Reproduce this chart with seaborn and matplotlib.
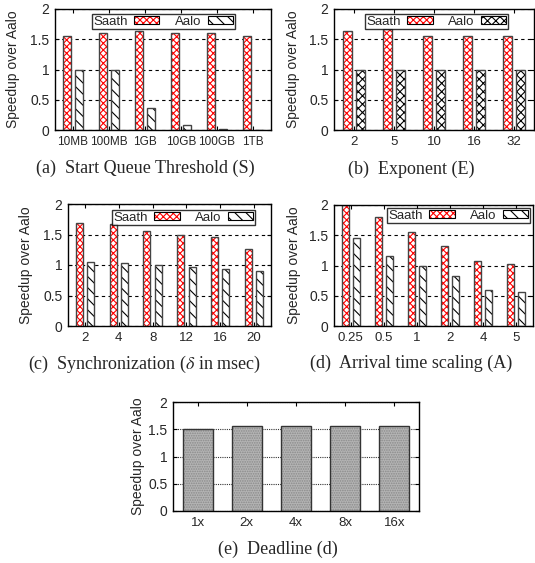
import pandas as pd
import seaborn as sns
import matplotlib
matplotlib.use('Agg')
import matplotlib.pyplot as plt
import matplotlib.patches as mpatches
import matplotlib.colors as mcolors

sns.set_theme(style='white')
plt.rcParams['font.family'] = ['Liberation Sans', 'DejaVu Sans']
plt.rcParams['mathtext.fontset'] = 'stix'
plt.rcParams['hatch.linewidth'] = 0.8

# data
systems = ['Saath', 'Aalo']

thresh_labels = ['10MB', '100MB', '1GB', '10GB', '100GB', '1TB']
thresh_saath = [1.56, 1.60, 1.63, 1.61, 1.60, 1.55]
thresh_aalo = [1.0, 1.0, 0.36, 0.08, 0.01, 0.0]

exp_labels = ['2', '5', '10', '16', '32']
exp_saath = [1.64, 1.67, 1.56, 1.55, 1.55]
exp_aalo = [1.0, 1.0, 1.0, 1.0, 1.0]

sync_labels = ['2', '4', '8', '12', '16', '20']
sync_saath = [1.69, 1.67, 1.56, 1.50, 1.46, 1.27]
sync_aalo = [1.05, 1.03, 1.0, 0.97, 0.93, 0.90]

arr_labels = ['0.25', '0.5', '1', '2', '4', '5']
arr_saath = [2.0, 1.80, 1.56, 1.33, 1.08, 1.03]
arr_aalo = [1.46, 1.16, 1.0, 0.82, 0.59, 0.57]

dl_labels = ['1x', '2x', '4x', '8x', '16x']
dl_vals = [1.50, 1.56, 1.56, 1.56, 1.56]

W, H = 535, 563


def set_hatch_color(p, c):
    if hasattr(p, 'set_hatchcolor'):
        p.set_hatchcolor(c)
    else:
        p._hatch_color = mcolors.to_rgba(c)


def style_axes(ax, xfs):
    ax.set_ylim(0, 2)
    ax.set_yticks([0, 0.5, 1, 1.5, 2])
    ax.set_yticklabels(['0', '0.5', '1', '1.5', '2'], fontsize=10)
    ax.tick_params(axis='x', labelsize=xfs)
    ax.tick_params(direction='in', length=3, width=0.8, color='black',
                   top=True, right=True, bottom=True, left=True, pad=4)
    for s in ax.spines.values():
        s.set_color('black')
        s.set_linewidth(1.0)
    ax.set_xlabel('')
    ax.set_ylabel('Speedup over Aalo', fontsize=10)
    ax.set_axisbelow(True)


def pair_panel(rect, labels, saath, aalo, aalo_hatch, leg_anchor, xfs, ylx):
    ax = fig.add_axes(rect)
    df = pd.DataFrame({'cat': labels * 2,
                       'val': saath + aalo,
                       'sys': ['Saath'] * len(labels) + ['Aalo'] * len(labels)})
    sns.barplot(data=df, x='cat', y='val', hue='sys', order=labels,
                hue_order=systems, palette=['white', 'white'], width=0.667,
                gap=0.37, legend=False, ax=ax, linewidth=1.0, edgecolor='#444444')
    for p in ax.containers[0]:
        p.set_hatch('xxxxx')
        set_hatch_color(p, 'red')
    for p in ax.containers[1]:
        p.set_hatch(aalo_hatch)
        set_hatch_color(p, 'black')
    ax.yaxis.grid(True, linestyle=(0, (3, 3)), color='black', linewidth=0.8)
    style_axes(ax, xfs)
    ax.yaxis.set_label_coords(ylx, 0.5)
    h1 = mpatches.Patch(facecolor='white', edgecolor='black', lw=0.8, hatch='xxxxx')
    set_hatch_color(h1, 'red')
    h2 = mpatches.Patch(facecolor='white', edgecolor='black', lw=0.8, hatch=aalo_hatch)
    set_hatch_color(h2, 'black')
    leg = ax.legend([h1, h2], systems, ncol=2, markerfirst=False, loc='upper right',
                    bbox_to_anchor=leg_anchor, fontsize=9.5, frameon=True, fancybox=False,
                    borderpad=0.12, handlelength=1.9, handleheight=0.6,
                    handletextpad=0.5, columnspacing=1.2, borderaxespad=0)
    leg.get_frame().set_edgecolor('black')
    leg.get_frame().set_linewidth(1.0)
    return ax


def rect_px(x0, x1, y0, y1):
    return [x0 / W, 1 - y1 / H, (x1 - x0) / W, (y1 - y0) / H]


fig = plt.figure(figsize=(5.35, 5.63), dpi=100)

pair_panel(rect_px(55, 271, 9, 130), thresh_labels, thresh_saath, thresh_aalo,
           '\\\\\\', (0.833, 0.959), 8.5, -0.162)
pair_panel(rect_px(334, 534, 9, 130), exp_labels, exp_saath, exp_aalo,
           'xxxx', (0.87, 0.959), 9.5, -0.17)
pair_panel(rect_px(68, 271, 204, 326), sync_labels, sync_saath, sync_aalo,
           '\\\\\\', (0.921, 0.951), 9.5, -0.172)
pair_panel(rect_px(334, 533, 205, 326), arr_labels, arr_saath, arr_aalo,
           '\\\\\\', (0.985, 0.975), 9.5, -0.166)

# deadline panel
ax = fig.add_axes(rect_px(173, 419, 402, 511))
sns.barplot(x=dl_labels, y=dl_vals, color='#b4b4b4', width=0.61, ax=ax,
            linewidth=1.0, edgecolor='#333333', saturation=1)
for p in ax.patches:
    p.set_hatch('.......')
    set_hatch_color(p, '#8a8a8a')
ax.yaxis.grid(True, linestyle=(0, (1, 1)), color='#333333', linewidth=0.8)
style_axes(ax, 9.5)
ax.yaxis.set_label_coords(-0.112, 0.5)

# captions
cap = dict(family=['Liberation Serif', 'DejaVu Serif'], fontsize=13,
           ha='center', va='center')
fig.text(145 / W, 1 - 168 / H, '(a)  Start Queue Threshold (S)', **cap)
fig.text(411 / W, 1 - 169 / H, '(b)  Exponent (E)', **cap)
fig.text(144 / W, 1 - 364 / H, r'(c)  Synchronization ($\delta$ in msec)', **cap)
fig.text(411 / W, 1 - 363 / H, '(d)  Arrival time scaling (A)', **cap)
fig.text(278 / W, 1 - 549 / H, '(e)  Deadline (d)', **cap)

fig.savefig('out.png', dpi=100)
